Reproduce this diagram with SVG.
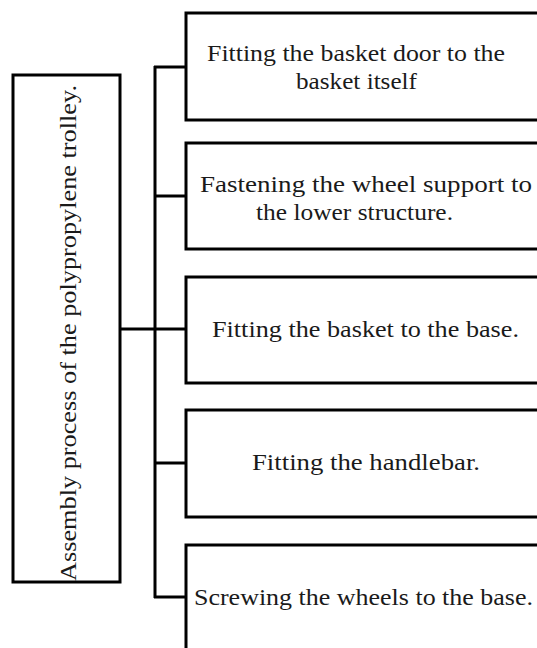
<svg xmlns="http://www.w3.org/2000/svg" width="537" height="648" viewBox="0 0 537 648">
  <style>
    .box { fill: #ffffff; stroke: #000000; stroke-width: 3; }
    .wire { fill: none; stroke: #000000; stroke-width: 3; }
    .label { font-family: "Liberation Serif", "DejaVu Serif", serif; font-size: 22.5px; fill: #1a1a1a; }
  </style>
  <rect x="0" y="0" width="537" height="648" fill="#ffffff"/>

  <!-- connectors -->
  <g id="connectors">
    <line class="wire" x1="120" y1="329" x2="155" y2="329"/>
    <line class="wire" x1="155" y1="66" x2="155" y2="598"/>
    <line class="wire" x1="154" y1="67" x2="186" y2="67"/>
    <line class="wire" x1="155" y1="196" x2="186" y2="196"/>
    <line class="wire" x1="155" y1="329" x2="186" y2="329"/>
    <line class="wire" x1="155" y1="463" x2="186" y2="463"/>
    <line class="wire" x1="154" y1="597" x2="186" y2="597"/>
  </g>

  <g id="root">
    <rect class="box" x="13" y="75" width="107" height="507"/>
    <text class="label" transform="translate(76,581) rotate(-90)" textLength="496" lengthAdjust="spacingAndGlyphs">Assembly process of the polypropylene trolley.</text>
  </g>

  <g id="step1">
    <rect class="box" x="186" y="13" width="360" height="107"/>
    <text class="label" x="207" y="61" textLength="298" lengthAdjust="spacingAndGlyphs">Fitting the basket door to the</text>
    <text class="label" x="296" y="89" textLength="121" lengthAdjust="spacingAndGlyphs">basket itself</text>
  </g>

  <g id="step2">
    <rect class="box" x="186" y="143" width="360" height="106"/>
    <text class="label" x="200" y="192" textLength="332" lengthAdjust="spacingAndGlyphs">Fastening the wheel support to</text>
    <text class="label" x="256" y="220" textLength="197" lengthAdjust="spacingAndGlyphs">the lower structure.</text>
  </g>

  <g id="step3">
    <rect class="box" x="186" y="277" width="360" height="106"/>
    <text class="label" x="212" y="337" textLength="307" lengthAdjust="spacingAndGlyphs">Fitting the basket to the base.</text>
  </g>

  <g id="step4">
    <rect class="box" x="186" y="410" width="360" height="107"/>
    <text class="label" x="252" y="470" textLength="228" lengthAdjust="spacingAndGlyphs">Fitting the handlebar.</text>
  </g>

  <g id="step5">
    <rect class="box" x="186" y="545" width="360" height="110"/>
    <text class="label" x="194" y="605" textLength="339" lengthAdjust="spacingAndGlyphs">Screwing the wheels to the base.</text>
  </g>
</svg>
